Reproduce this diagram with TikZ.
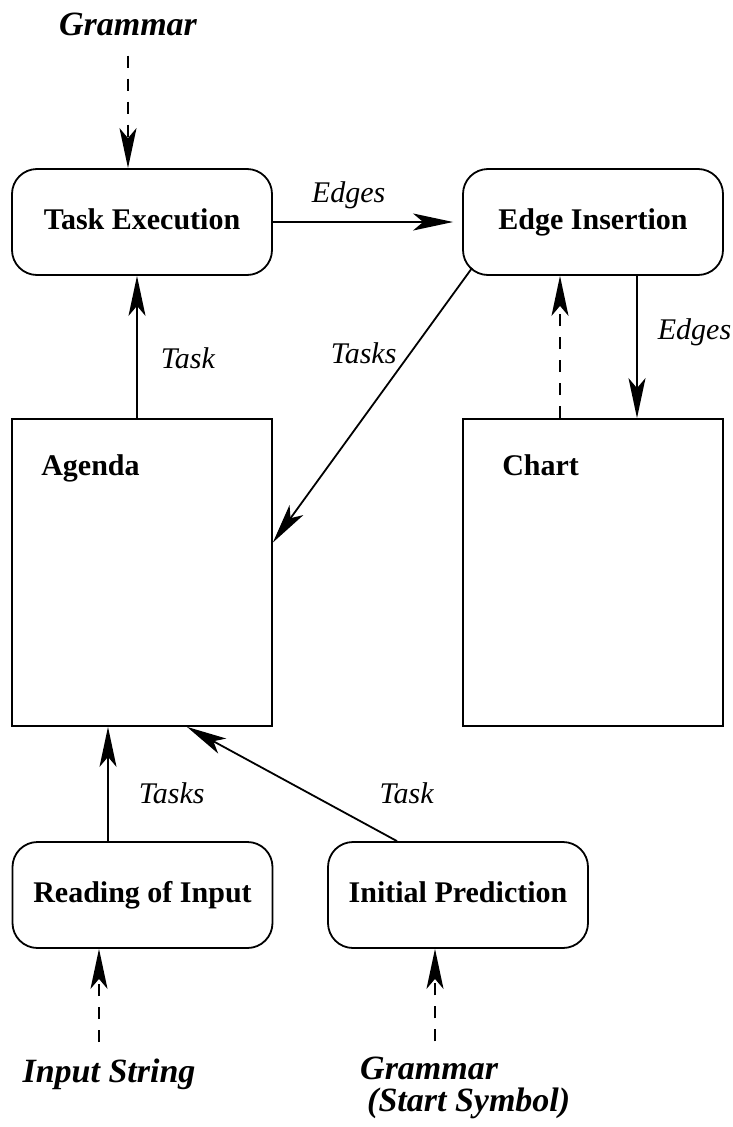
\documentclass[tikz,border=0pt]{standalone}
\usepackage{fontspec}
\setmainfont{Liberation Serif}
\usepackage{tikz}
\usetikzlibrary{arrows.meta,positioning}
\tikzset{
  proc/.style={draw,line width=1.8pt,rounded corners=25pt,minimum width=260pt,minimum height=106pt,text height=21pt,text depth=7pt,font=\fontsize{30}{36}\selectfont\bfseries},
  store/.style={draw,line width=1.8pt,minimum width=260pt,minimum height=307pt},
  title/.style={inner sep=0pt,font=\fontsize{30}{36}\selectfont\bfseries},
  ext/.style={inner sep=0pt,align=left,font=\fontsize{34}{32}\selectfont\bfseries\itshape},
  lbl/.style={inner sep=0pt,font=\fontsize{30}{36}\selectfont\itshape},
  flow/.style={->,line width=1.8pt},
  feed/.style={flow,dash pattern=on 12pt off 11pt}}

\begin{document}
\begin{tikzpicture}[x=1pt,y=-1pt,>={Stealth[length=40pt,width=17pt,inset=10pt]}]
\useasboundingbox (0,0) rectangle (733,1127);
% processing steps
\node[proc] (exec) at (142,222) {Task Execution};
\node[proc] (insert) at (593,222) {Edge Insertion};
\node[proc] (read) at (142.5,895) {Reading of Input};
\node[proc] (predict) at (458,895) {Initial Prediction};
% agenda and chart
\node[store] (agenda) at (142,572.5) {};
\node[store] (chart) at (593,572.5) {};
\node[title,anchor=base west] at ([shift={(30,57)}]agenda.north west) {Agenda};
\node[title,anchor=base west] at ([shift={(40,57)}]chart.north west) {Chart};
% external inputs
\node[ext,anchor=base] (gram) at (128,35) {Grammar};
\node[ext,anchor=base] (input) at (109,1082) {Input String};
\node[ext,anchor=base west] (gstart) at (360,1111) {Grammar\\\hspace*{7pt}(Start Symbol)};
% flows
\draw[feed,shorten <=20pt] (gram.south) -- (gram.south |- exec.north);
\draw[flow,shorten >=9pt] (exec.east) -- (insert.west) node[lbl,pos=0.4,above=12pt]{Edges};
\draw[flow] ([xshift=-5pt]agenda.north) -- ([xshift=-5pt]exec.south) node[lbl,pos=0.42,right=23pt]{Task};
\draw[flow] ([shift={(10,-8)}]insert.south west) -- ([shift={(0,-30)}]agenda.east) node[lbl,pos=0.31,left=13pt]{Tasks};
\draw[feed] ([xshift=-33pt]chart.north) -- ([xshift=-33pt]insert.south);
\draw[flow] ([xshift=44pt]insert.south) -- ([xshift=44pt]chart.north) node[lbl,pos=0.4,right=20pt]{Edges};
\draw[flow] ([xshift=-34.5pt]read.north) -- ([xshift=-34pt]agenda.south) node[lbl,pos=0.42,right=30pt]{Tasks};
\draw[flow] ([xshift=-61pt]predict.north) -- ([xshift=45pt]agenda.south) node[lbl,pos=0.42,right=70pt]{Task};
\draw[feed,shorten <=16pt] ([xshift=-10pt]input.north) -- ([xshift=-43.5pt]read.south);
\coordinate (gs) at ([xshift=-23pt]predict.south);
\draw[feed,shorten <=15pt] (gs |- gstart.north) -- (gs);
\end{tikzpicture}
\end{document}
